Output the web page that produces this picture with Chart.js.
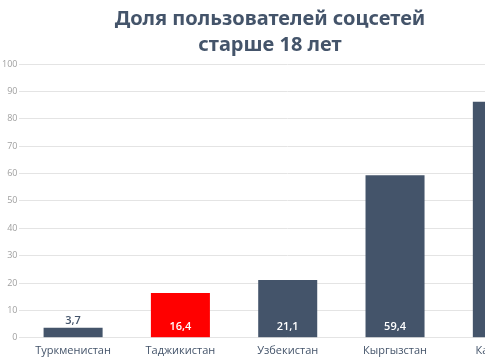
<!DOCTYPE html>
<html>
<head>
<meta charset="utf-8">
<script src="https://cdn.jsdelivr.net/npm/chart.js@4"></script>
<style>
  html, body { margin: 0; padding: 0; background: #fff; overflow: hidden; }
  #wrap { position: relative; width: 485px; height: 360px; overflow: hidden; }
  #title {
    position: absolute; left: 0; top: 5px; width: 540px;
    text-align: center; font-family: "Noto Sans", sans-serif; font-weight: bold;
    font-size: 20px; line-height: 26px; color: #44546a;
  }
  canvas { position: absolute; left: 0; top: 0; }
</style>
</head>
<body>
<div id="wrap">
  <canvas id="chart" width="556" height="360"></canvas>
  <div id="title">Доля пользователей соцсетей<br>старше 18 лет</div>
</div>
<script>
const countries = ['Туркменистан', 'Таджикистан', 'Узбекистан', 'Кыргызстан', 'Казахстан'];
const shares = [3.7, 16.4, 21.1, 59.4, 86.2];
const barColors = ['#44546a', '#ff0000', '#44546a', '#44546a', '#44546a'];
const yTicks = [0, 10, 20, 30, 40, 50, 60, 70, 80, 90, 100];

const fmt = v => v.toString().replace('.', ',');

// value labels: small bars get label on top, others inside near the base
const valueLabels = {
  id: 'valueLabels',
  afterDatasetsDraw(chart) {
    const ctx = chart.ctx;
    const meta = chart.getDatasetMeta(0);
    ctx.save();
    ctx.font = '600 11px "Open Sans", sans-serif';
    ctx.textAlign = 'center';
    meta.data.forEach((bar, i) => {
      const v = shares[i];
      if (bar.base - bar.y < 20) {
        ctx.fillStyle = '#44546a';
        ctx.textBaseline = 'bottom';
        ctx.fillText(fmt(v), bar.x, bar.y - 1);
      } else {
        ctx.fillStyle = '#ffffff';
        ctx.textBaseline = 'middle';
        ctx.fillText(fmt(v), bar.x, bar.base - 10);
      }
    });
    ctx.restore();
  }
};

new Chart(document.getElementById('chart'), {
  type: 'bar',
  data: {
    labels: countries,
    datasets: [{
      data: shares,
      backgroundColor: barColors,
      categoryPercentage: 1,
      barPercentage: 0.55
    }]
  },
  options: {
    responsive: false,
    animation: false,
    layout: { padding: { top: 64, bottom: -3, right: 0, left: 0 } },
    plugins: {
      legend: { display: false },
      tooltip: { enabled: false }
    },
    scales: {
      x: {
        grid: { display: false, drawTicks: false },
        border: { display: false },
        ticks: {
          color: '#44546a',
          font: { family: '"Open Sans", sans-serif', size: 11 },
          padding: 6,
          maxRotation: 0
        }
      },
      y: {
        min: 0,
        max: 100,
        afterBuildTicks: axis => { axis.ticks = yTicks.map(v => ({ value: v })); },
        grid: { color: '#e4e4e4', drawTicks: false },
        border: { display: false },
        ticks: {
          color: '#a0a0a0',
          font: { family: '"Open Sans", sans-serif', size: 9 },
          padding: 2
        }
      }
    }
  },
  plugins: [valueLabels]
});
</script>
</body>
</html>
